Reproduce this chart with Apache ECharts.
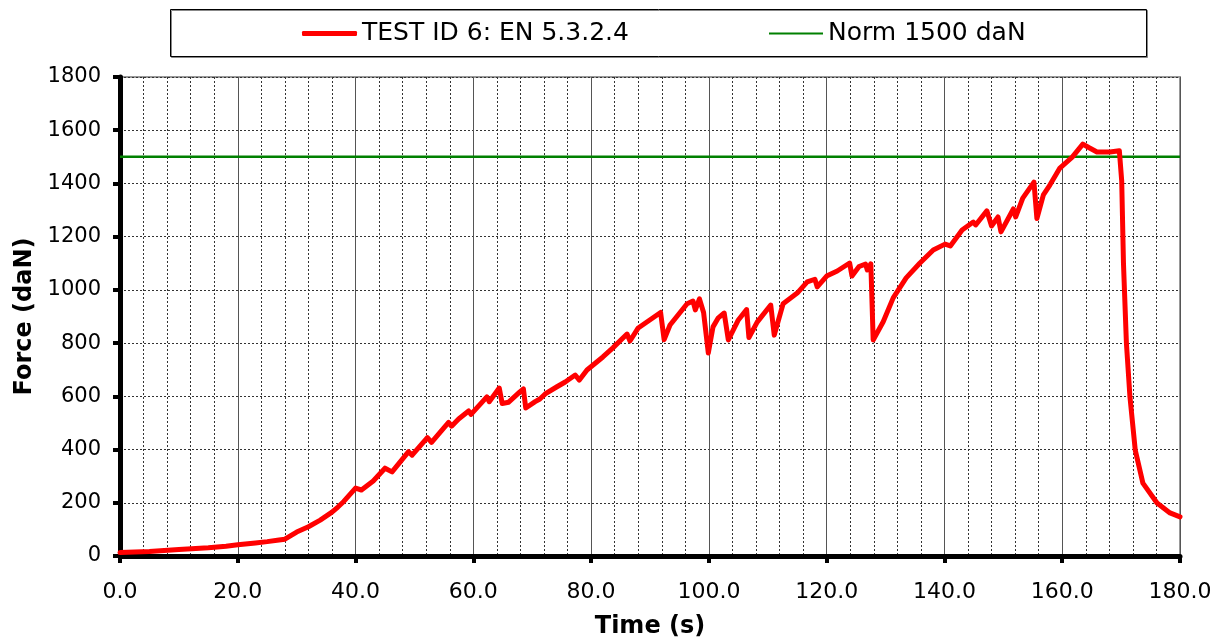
<!DOCTYPE html>
<html>
<head>
<meta charset="utf-8">
<script src="https://cdn.jsdelivr.net/npm/echarts@6/dist/echarts.min.js"></script>
<style>
	html, body { margin: 0; padding: 0; background: #fff; }
	#main { width: 1223px; height: 640px; }
</style>
</head>
<body>
<div id="main"></div>
<script>
// test curve, time (s) and force (daN)
var times = [0, 5, 10, 15, 18, 20, 23, 25, 27, 28, 30, 32, 34, 36, 37, 38, 40, 41, 43, 45, 46.2,
	49, 49.6, 52.2, 52.9, 55.8, 56.3, 57.5, 59.2, 59.6, 62.3, 62.7, 64.4, 64.9, 66, 67.9, 68.5, 68.9,
	70.5, 71.3, 72.2, 74.2, 75.6, 77.3, 78, 79.3, 82, 83.7, 86.1, 86.6, 88, 91.8, 92.4, 93.4, 96.3,
	97.3, 97.7, 98.4, 99.1, 99.9, 100.7, 101.6, 102.6, 103.3, 105, 106.4, 106.8, 108.2, 110.5, 111.1,
	112.6, 115, 116.7, 118, 118.4, 120, 121.8, 123.9, 124.3, 125.5, 126.6, 126.9, 127.5, 127.9,
	129.6, 131.3, 133.5, 135.8, 138.1, 140.1, 141, 143, 144.9, 145.3, 147.2, 148, 149.1, 149.6,
	151.7, 152.1, 153.3, 155.2, 155.7, 156.8, 157.9, 159.6, 161.7, 163.5, 164.5, 165.9, 168.1,
	169.7, 170.1, 170.4, 170.9, 171.5, 172.4, 173.7, 176.1, 178.3, 180];
var forces = [13, 17, 24, 31, 37, 42, 49, 54, 60, 63, 90, 110, 135, 165, 184, 205, 255, 248, 282, 330, 316,
	392, 379, 445, 427, 502, 488, 515, 545, 532, 598, 580, 631, 573, 578, 617, 628, 556,
	580, 590, 609, 636, 654, 680, 661, 699, 748, 782, 834, 808, 857, 915, 813, 868, 948,
	958, 925, 966, 915, 763, 861, 895, 913, 812, 887, 926, 821, 879, 943, 830,
	948, 988, 1030, 1040, 1011, 1052, 1071, 1101, 1052, 1088, 1097, 1075, 1098, 812,
	880, 970, 1045, 1100, 1150, 1172, 1165, 1225, 1255, 1244, 1297, 1240, 1274, 1218,
	1304, 1274, 1345, 1405, 1268, 1357, 1394, 1458, 1499, 1548, 1535, 1518, 1518,
	1523, 1410, 1100, 800, 598, 398, 274, 199, 162, 147];

// norm line
var normTimes = [0, 180];
var normForces = [1500, 1500];

var testName = 'TEST ID 6: EN 5.3.2.4';
var normName = 'Norm 1500 daN';

var font = 'DejaVu Sans, Verdana, sans-serif';

var dom = document.getElementById('main');
var myChart = echarts.init(dom, null, { renderer: 'canvas' });

var testData = times.map(function (t, i) { return [t, forces[i]]; });
var normData = normTimes.map(function (t, i) { return [t, normForces[i]]; });

var dotted = { color: '#333', width: 1, type: [2, 2] };

var option = {
	animation: false,
	backgroundColor: '#fff',
	textStyle: { fontFamily: font, color: '#000' },
	graphic: [{
		type: 'rect',
		z: 0,
		shape: { x: 170.5, y: 9.5, width: 976, height: 47 },
		style: {
			fill: '#fff', stroke: '#000', lineWidth: 1,
			shadowColor: '#888', shadowOffsetX: 1, shadowOffsetY: 1, shadowBlur: 0
		}
	}],
	legend: [{
		data: [{ name: testName, icon: 'roundRect' }],
		left: 302, top: 21, padding: 0, z: 10,
		itemWidth: 55, itemHeight: 5, itemGap: 0, itemTextGap: 5,
		itemStyle: { color: '#ff0000' },
		textStyle: { fontFamily: font, fontSize: 25, color: '#000' }
	}, {
		data: [{ name: normName, icon: 'rect' }],
		left: 769, top: 21, padding: 0, z: 10,
		itemWidth: 54, itemHeight: 2, itemGap: 0, itemTextGap: 5,
		itemStyle: { color: '#008000' },
		textStyle: { fontFamily: font, fontSize: 25, color: '#000' }
	}],
	grid: {
		left: 120, right: 43, top: 77, bottom: 84,
		outerBoundsMode: 'none',
		containLabel: false,
		show: true, borderColor: '#999', borderWidth: 2
	},
	xAxis: {
		type: 'value',
		min: 0, max: 180, interval: 20,
		name: 'Time (s)',
		nameLocation: 'middle',
		nameGap: 59,
		nameTextStyle: { fontFamily: font, fontSize: 24, fontWeight: 'bold', color: '#000' },
		axisLine: { onZero: false, lineStyle: { color: '#000', width: 5 } },
		axisTick: { show: true, length: 7, lineStyle: { color: '#000', width: 4 } },
		axisLabel: {
			margin: 25, fontSize: 22, color: '#000', fontFamily: font,
			formatter: function (v) { return v.toFixed(1); }
		},
		splitLine: { show: true, lineStyle: { color: '#555', width: 1 } },
		minorTick: { show: false, splitNumber: 5 },
		minorSplitLine: { show: true, lineStyle: dotted }
	},
	yAxis: {
		type: 'value',
		min: 0, max: 1800, interval: 200,
		name: 'Force (daN)',
		nameLocation: 'middle',
		nameGap: 82,
		nameTextStyle: { fontFamily: font, fontSize: 24, fontWeight: 'bold', color: '#000' },
		axisLine: { show: true, lineStyle: { color: '#000', width: 5 } },
		axisTick: { show: true, length: 7, lineStyle: { color: '#000', width: 4 } },
		axisLabel: {
			margin: 19, fontSize: 21, color: '#000', fontFamily: font,
			formatter: function (v) { return String(v); }
		},
		splitLine: { show: true, lineStyle: dotted }
	},
	series: [{
		name: testName,
		type: 'line',
		z: 5,
		symbol: 'none',
		data: testData,
		lineStyle: { color: '#ff0000', width: 5, cap: 'round', join: 'round' },
		itemStyle: { color: '#ff0000' }
	}, {
		name: normName,
		type: 'line',
		z: 4,
		symbol: 'none',
		data: normData,
		lineStyle: { color: '#008000', width: 2.5 },
		itemStyle: { color: '#008000' }
	}]
};

myChart.setOption(option);
window.addEventListener('resize', myChart.resize);
</script>
</body>
</html>
